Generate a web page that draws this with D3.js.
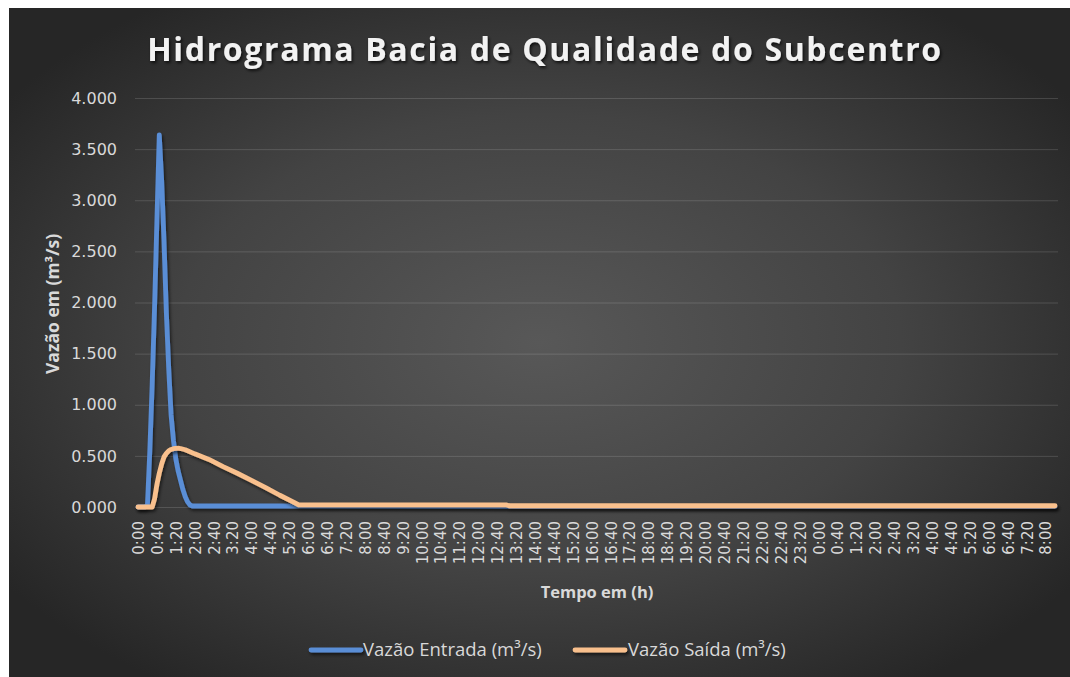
<!DOCTYPE html>
<html>
<head>
<meta charset="utf-8">
<script src="https://cdn.jsdelivr.net/npm/d3@7"></script>
<style>
  html, body { margin: 0; padding: 0; background: #ffffff; }
  svg { display: block; }
</style>
</head>
<body>
<svg id="chart" width="1070" height="677"></svg>
<script>
// ---------- DATA ----------
const chartTitle = "Hidrograma Bacia de Qualidade do Subcentro";
const yAxisTitle = "Vazão em (m³/s)";
const xAxisTitle = "Tempo em (h)";
const seriesNames = ["Vazão Entrada (m³/s)", "Vazão Saída (m³/s)"];

// time in minutes from 0:00 (first day) for each reading
const inflowMinutes = [0, 15, 20, 25, 30, 35, 40, 45, 50, 55, 60, 65, 70, 75, 80, 85, 90, 95, 100, 105, 110, 115, 360, 780, 1940];
const inflowValues  = [0, 0, 0.02, 0.55, 1.2, 1.95, 2.8, 3.64, 3.2, 2.6, 1.9, 1.35, 0.9, 0.65, 0.47, 0.35, 0.26, 0.17, 0.1, 0.05, 0.02, 0.01, 0.01, 0.005, 0.005];

const outflowMinutes = [0, 30, 35, 40, 45, 50, 55, 60, 65, 70, 75, 80, 85, 90, 100, 120, 150, 180, 210, 240, 270, 300, 330, 340, 780, 785, 1940];
const outflowValues  = [0, 0, 0.08, 0.22, 0.33, 0.42, 0.49, 0.525, 0.55, 0.563, 0.57, 0.574, 0.575, 0.572, 0.56, 0.52, 0.465, 0.395, 0.33, 0.26, 0.19, 0.115, 0.045, 0.02, 0.02, 0.012, 0.012];

// x tick labels, one every 40 minutes
const tickStepMinutes = 40;
const xTickLabels = ["0:00","0:40","1:20","2:00","2:40","3:20","4:00","4:40","5:20","6:00","6:40","7:20",
  "8:00","8:40","9:20","10:00","10:40","11:20","12:00","12:40","13:20","14:00","14:40","15:20",
  "16:00","16:40","17:20","18:00","18:40","19:20","20:00","20:40","21:20","22:00","22:40","23:20",
  "0:00","0:40","1:20","2:00","2:40","3:20","4:00","4:40","5:20","6:00","6:40","7:20","8:00"];
const yTicks = [0, 0.5, 1, 1.5, 2, 2.5, 3, 3.5, 4];
const lastMinute = 1940;

// ---------- LAYOUT ----------
const W = 1070, H = 677;
const bgX = 9, bgY = 8;
const plotLeft = 135, plotRight = 1058;
const plotTop = 98, plotBottom = 507;
const colors = ["#5a8ed6", "#f9c08d"];

const svg = d3.select("#chart");
const defs = svg.append("defs");

const grad = defs.append("radialGradient").attr("id", "bg")
  .attr("cx", "50%").attr("cy", "50%").attr("r", "62%");
grad.append("stop").attr("offset", "0%").attr("stop-color", "#585858");
grad.append("stop").attr("offset", "55%").attr("stop-color", "#434343");
grad.append("stop").attr("offset", "100%").attr("stop-color", "#262626");

const sh = defs.append("filter").attr("id", "lineShadow")
  .attr("filterUnits", "userSpaceOnUse")
  .attr("x", 0).attr("y", 0).attr("width", W).attr("height", H);
sh.append("feDropShadow").attr("dx", 1.5).attr("dy", 2.5).attr("stdDeviation", 1.5)
  .attr("flood-color", "#000").attr("flood-opacity", 0.55);

const tsh = defs.append("filter").attr("id", "titleShadow")
  .attr("filterUnits", "userSpaceOnUse")
  .attr("x", 0).attr("y", 0).attr("width", W).attr("height", H);
tsh.append("feDropShadow").attr("dx", 1.5).attr("dy", 2).attr("stdDeviation", 1.5)
  .attr("flood-color", "#000").attr("flood-opacity", 0.7);

svg.append("rect").attr("x", bgX).attr("y", bgY)
  .attr("width", W - bgX).attr("height", H - bgY).attr("fill", "url(#bg)");

// ---------- SCALES ----------
const x = d3.scaleLinear().domain([0, lastMinute]).range([138, 1055]);
const y = d3.scaleLinear().domain([0, 4]).range([plotBottom, plotTop]);

// ---------- Y AXIS + GRID ----------
const yAxis = d3.axisLeft(y).tickValues(yTicks)
  .tickSize(-(plotRight - plotLeft)).tickPadding(18)
  .tickFormat(d3.format(".3f"));
const gy = svg.append("g").attr("transform", `translate(${plotLeft},0)`).call(yAxis);
gy.select(".domain").remove();
gy.selectAll(".tick line").attr("stroke", "rgba(255,255,255,0.14)").attr("stroke-width", 1);
gy.selectAll(".tick text")
  .attr("fill", "#d9d9d9").attr("font-family", "DejaVu Sans, sans-serif")
  .attr("font-size", "16px");

// ---------- X AXIS ----------
const xTickValues = xTickLabels.map((_, i) => i * tickStepMinutes);
const xAxis = d3.axisBottom(x).tickValues(xTickValues)
  .tickSize(0).tickFormat((d, i) => xTickLabels[i]);
const gx = svg.append("g").attr("transform", `translate(0,${plotBottom})`).call(xAxis);
gx.select(".domain").remove();
gx.selectAll(".tick text")
  .attr("transform", "rotate(-90)")
  .attr("x", -14).attr("y", 0).attr("dy", "0.36em")
  .attr("text-anchor", "end")
  .attr("fill", "#d9d9d9").attr("font-family", "DejaVu Sans, sans-serif")
  .attr("font-size", "15px");

// ---------- LINES ----------
const line = d3.line().x(d => x(d[0])).y(d => y(d[1]));
const inflow = inflowMinutes.map((m, i) => [m, inflowValues[i]]);
const outflow = outflowMinutes.map((m, i) => [m, outflowValues[i]]);

[inflow, outflow].forEach((data, i) => {
  svg.append("path").datum(data)
    .attr("d", line)
    .attr("fill", "none")
    .attr("stroke", colors[i])
    .attr("stroke-width", 4.8)
    .attr("stroke-linejoin", "round")
    .attr("stroke-linecap", "round")
    .attr("filter", "url(#lineShadow)");
});

// ---------- TITLES ----------
const title = svg.append("text")
  .attr("x", 545).attr("y", 61)
  .attr("text-anchor", "middle")
  .attr("fill", "#f2f2f2")
  .attr("font-family", "Open Sans, sans-serif")
  .attr("font-weight", 700)
  .attr("font-size", "32px")
  .attr("filter", "url(#titleShadow)")
  .text(chartTitle);
// fit letter spacing to the target width
(function fitTitle() {
  const target = 794;
  const n = chartTitle.length;
  const w0 = title.node().getComputedTextLength();
  const ls = (target - w0) / (n - 1);
  title.attr("letter-spacing", ls.toFixed(2) + "px");
})();

svg.append("text")
  .attr("transform", `translate(53,304) rotate(-90)`)
  .attr("text-anchor", "middle").attr("dy", "0.35em")
  .attr("fill", "#d9d9d9")
  .attr("font-family", "Open Sans, sans-serif")
  .attr("font-weight", 700).attr("font-size", "17.5px")
  .text(yAxisTitle);

svg.append("text")
  .attr("x", 597).attr("y", 592)
  .attr("text-anchor", "middle").attr("dy", "0.35em")
  .attr("fill", "#d9d9d9")
  .attr("font-family", "Open Sans, sans-serif")
  .attr("font-weight", 700).attr("font-size", "16.5px")
  .text(xAxisTitle);

// ---------- LEGEND ----------
const legendY = 650;
const legendItems = [
  { x1: 311, x2: 361, tx: 363 },
  { x1: 575, x2: 625, tx: 628 }
];
legendItems.forEach((it, i) => {
  svg.append("line")
    .attr("x1", it.x1).attr("x2", it.x2)
    .attr("y1", legendY).attr("y2", legendY)
    .attr("stroke", colors[i]).attr("stroke-width", 4.8)
    .attr("stroke-linecap", "round")
    .attr("filter", "url(#lineShadow)");
  svg.append("text")
    .attr("x", it.tx).attr("y", legendY).attr("dy", "0.35em")
    .attr("fill", "#d9d9d9")
    .attr("font-family", "Open Sans, sans-serif")
    .attr("font-size", "18.5px")
    .text(seriesNames[i]);
});
</script>
</body>
</html>
